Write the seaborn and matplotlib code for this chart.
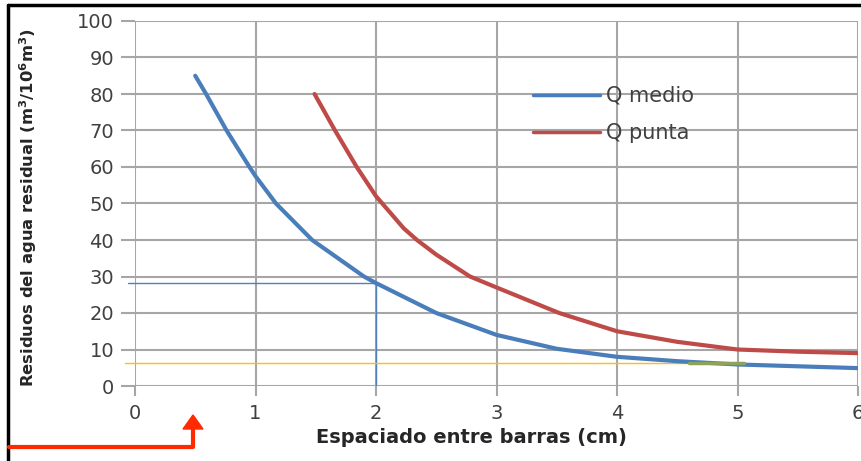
import numpy as np
import pandas as pd
import matplotlib.pyplot as plt
import seaborn as sns
from matplotlib.lines import Line2D

# Q medio curve
x_medio = [0.5, 0.59, 0.76, 0.95, 1.0, 1.17, 1.47, 1.9, 2.0, 2.5, 3.0, 3.5, 4.0, 4.5, 5.0, 5.5, 6.0]
y_medio = [85, 80, 70, 60, 57.5, 50, 40, 30, 28.2, 20, 14, 10.2, 8, 6.8, 5.9, 5.4, 4.9]

# Q punta curve
x_punta = [1.49, 1.66, 1.84, 2.0, 2.23, 2.34, 2.5, 2.78, 3.0, 3.52, 4.0, 4.5, 5.0, 5.5, 6.0]
y_punta = [80, 70, 60, 52, 43.2, 40, 36, 30, 27, 20, 15, 12.1, 10, 9.4, 9.0]

# reading lines drawn on the chart
read_x = 2.0
read_y = 28.2
limit_y = 6.3
limit_x_end = 5.05

x_ticks = [0, 1, 2, 3, 4, 5, 6]
y_ticks = [0, 10, 20, 30, 40, 50, 60, 70, 80, 90, 100]

df = pd.concat([
    pd.DataFrame({'x': x_medio, 'y': y_medio, 'serie': 'Q medio'}),
    pd.DataFrame({'x': x_punta, 'y': y_punta, 'serie': 'Q punta'}),
])

sns.set_style("white")
plt.rcParams['mathtext.default'] = 'regular'

fig = plt.figure(figsize=(8.61, 4.61), dpi=100)
ax = fig.add_axes([135/861, 1-386/461, 723/861, 365/461])

grid_col = '#a6a6a6'
for xv in x_ticks:
    ax.axvline(xv, color=grid_col, lw=1.5, zorder=0)
for yv in y_ticks:
    ax.axhline(yv, color=grid_col, lw=1.5, zorder=0)

# thin reading lines
ax.plot([-0.06, read_x], [read_y, read_y], color='#4f81bd', lw=1.0, clip_on=False, zorder=1)
ax.plot([read_x, read_x], [read_y, 0], color='#4f81bd', lw=1.0, zorder=1)
ax.plot([-0.08, limit_x_end], [limit_y, limit_y], color='#ffc000', lw=1.0, clip_on=False, zorder=1)

sns.lineplot(data=df, x='x', y='y', hue='serie', palette=['#4a7ebb', '#be4b48'],
             linewidth=3, ax=ax, zorder=3, sort=False, legend=False,
             solid_joinstyle='round', solid_capstyle='round')
# greenish overlap where the yellow line meets the blue one
ax.plot([4.6, limit_x_end], [limit_y, limit_y], color='#8da35a', lw=2.5, zorder=4)

ax.set_xlim(0, 6)
ax.set_ylim(0, 100)
ax.set_xticks(x_ticks)
ax.set_yticks(y_ticks)
for s in ax.spines.values():
    s.set_visible(False)
ax.tick_params(axis='x', length=7, width=1.5, color=grid_col, labelsize=14,
               labelcolor='#404040', pad=6, bottom=True)
ax.tick_params(axis='y', length=10, width=1.5, color=grid_col, labelsize=14,
               labelcolor='#404040', pad=5, left=True)

ax.set_xlabel('Espaciado entre barras (cm)', fontsize=14, fontweight='bold')
ax.xaxis.set_label_coords(0.465, -0.115)
ax.set_ylabel('Residuos del agua residual (m$^3$/10$^6$m$^3$)', fontsize=11.8, fontweight='bold')
ax.yaxis.set_label_coords(-0.133, 0.49)

handles = [Line2D([], [], color='#4a7ebb', lw=2.5), Line2D([], [], color='#be4b48', lw=2.5)]
ax.legend(handles, ['Q medio', 'Q punta'], loc='upper left', bbox_to_anchor=(0.5505, 0.822),
          frameon=False, fontsize=15, handlelength=3.2, handletextpad=0.3, labelspacing=0.82,
          borderpad=0, borderaxespad=0, labelcolor='#404040')

# frame around the picture and red arrow
fig.add_artist(Line2D([8/861, 1], [1-5/461, 1-5/461], color='black', lw=2.5, transform=fig.transFigure))
fig.add_artist(Line2D([8/861, 8/861], [0, 1-5/461], color='black', lw=2.5, transform=fig.transFigure))
fig.add_artist(Line2D([9/861, 193/861, 193/861], [1-447/461, 1-447/461, 1-428/461],
                      color='#ff2a00', lw=3, transform=fig.transFigure))
fig.patches.append(plt.Polygon([[183/861, 1-429/461], [203/861, 1-429/461], [193/861, 1-415/461]],
                               closed=True, color='#ff2a00', transform=fig.transFigure))

fig.savefig('out.png', dpi=100)
